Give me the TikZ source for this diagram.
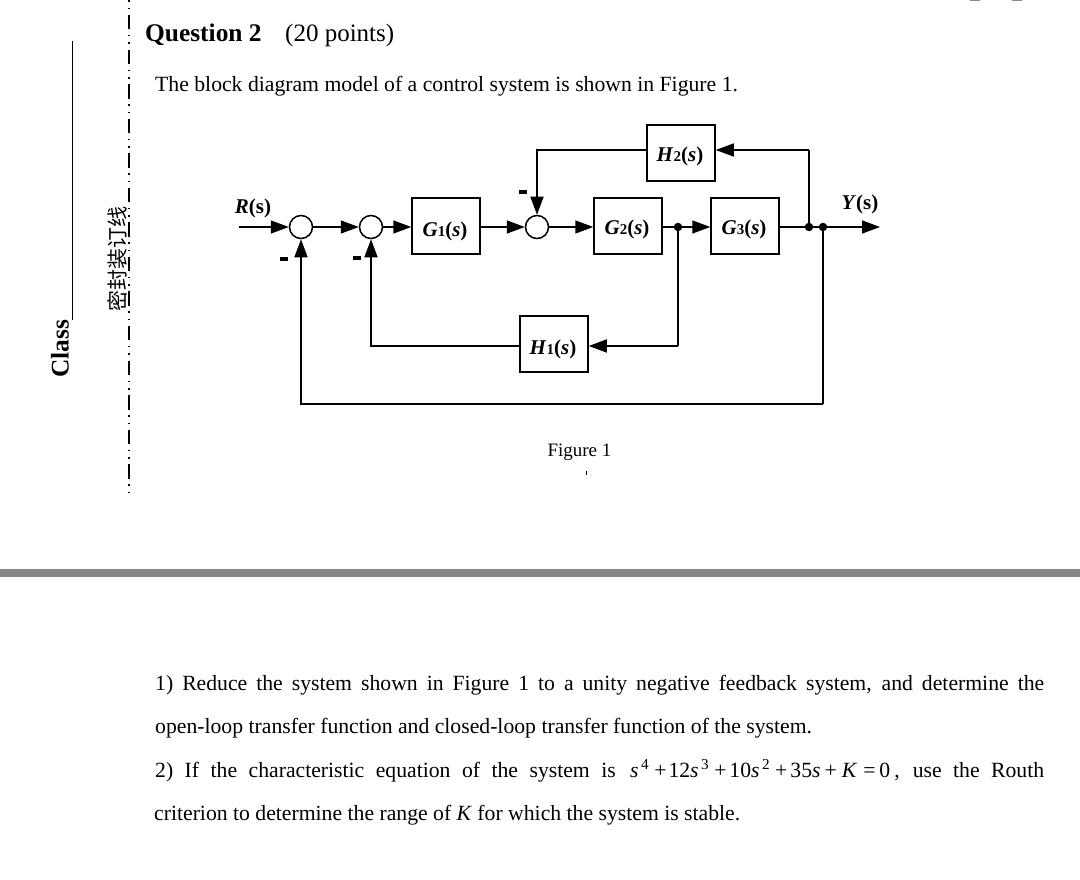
\documentclass[tikz,border=0pt]{standalone}
\usepackage{fontspec}
\usepackage{tikz}
\usetikzlibrary{arrows.meta}
\setmainfont{Liberation Serif}
\newfontfamily\cjk{Noto Sans CJK SC}
\newcommand{\sz}[1]{\fontsize{#1}{#1}\selectfont}
\newcommand{\blk}[2]{\textbf{\textit{#1}{\sz{15}#2}(\textit{s})}\kern2pt}
\newcommand{\wideline}[1]{\makebox[889pt][s]{#1}}
\newcommand{\pw}[1]{\kern2.5pt\textsuperscript{#1}\kern5pt}
\tikzset{
  block/.style = {draw, line width = 1.5pt, minimum width = 68pt, minimum height = 56pt, inner sep = 0pt, font = \sz{21}, text height = #1, text depth = 0pt},
  block/.default = 16pt,
  sumnode/.style = {draw, circle, line width = 1.5pt, minimum size = 23pt, inner sep = 0pt},
  dotnode/.style = {fill, circle, minimum size = 8.5pt, inner sep = 0pt},
  flow/.style = {line width = 1.5pt, -{Triangle[length = 18pt, width = 13pt]}},
  wire/.style = {line width = 1.5pt},
  txt/.style = {anchor = base west, inner sep = 0pt, font = \sz{21.7}},
  minus/.style = {fill, minimum width = 8pt, minimum height = 3.5pt, inner sep = 0pt}
}
\begin{document}
\begin{tikzpicture}[x = 1pt, y = -1pt]
\useasboundingbox (0, 0) rectangle (1080, 880);

\coordinate (cutTop) at (129, 0);
\coordinate (cutEnd) at (129, 492);
\draw[line width = 1.2pt, dash pattern = on 14.5pt off 5.5pt on 1.5pt off 6pt on 1.5pt off 5.55pt, dash phase = 19.55pt] (cutTop) -- (cutEnd);
\coordinate (classTop) at (72, 41);
\coordinate (classEnd) at (72, 320);
\draw[line width = 1pt] (classTop) -- (classEnd);
\node[rotate = 90, inner sep = 0pt, font = \sz{25.4}\bfseries] (classLabel) at (60, 349) {Class};
\node[rotate = 90, inner sep = 0pt, font = \sz{21}\cjk] (sealLabel) at (117, 259) {密封装订线};
\fill[black!47] (0, 569) rectangle (1080, 577);

\node[txt, font = \sz{25.4}\bfseries] (title) at (145, 42) {Question 2};
\node[txt, font = \sz{25}] (points) at (285, 42) {(20 points)};
\node[txt] (intro) at (155, 92) {The block diagram model of a control system is shown in Figure 1.};

\node[sumnode] (sum1) at (301, 227) {};
\node[sumnode] (sum2) at (371, 227) {};
\node[block = 21pt] (G1) at (446, 226) {\blk{G}{1}};
\node[sumnode] (sum3) at (537, 227) {};
\node[block = 17pt] (G2) at (628, 226) {\blk{G}{2}};
\node[dotnode] (tapG) at (678, 227) {};
\node[block] (G3) at (745, 226) {\blk{G}{3}};
\node[dotnode] (tapH) at (809, 227) {};
\node[dotnode] (tapY) at (823, 227) {};
\node[block = 17pt] (H2) at (681, 153) {\blk{H}{2}};
\node[block = 21pt] (H1) at (554, 344) {\blk{H}{1}};
\coordinate (inR) at (239, 227);
\coordinate (outY) at (880, 227);
\coordinate (topH) at (809, 150);
\coordinate (midH) at (678, 346);
\coordinate (low) at (823, 404);

\draw[flow] (inR) -- (sum1);
\draw[flow] (sum1) -- (sum2);
\draw[flow] (sum2) -- (sum2 -| G1.west);
\draw[flow] (sum3 -| G1.east) -- (sum3);
\draw[flow] (sum3) -- (sum3 -| G2.west);
\draw[wire] (sum3 -| G2.east) -- (tapG.center);
\draw[flow] (tapG.center) -- (tapG -| G3.west);
\draw[wire] (tapG -| G3.east) -- (tapH.center) -- (tapY.center);
\draw[flow] (tapY.center) -- (outY);
\draw[wire] (tapH.center) -- (topH);
\draw[flow] (topH) -- (topH -| H2.east);
\draw[flow] (topH -| H2.west) -| (sum3);
\draw[wire] (tapG.center) -- (midH);
\draw[flow] (midH) -- (midH -| H1.east);
\draw[flow] (midH -| H1.west) -| (sum2);
\draw[wire] (tapY.center) -- (low);
\draw[flow] (low) -| (sum1);

\node[font = \sz{21}\bfseries, inner sep = 0pt] (labelR) at (253, 208) {\textit{R}(s)};
\node[font = \sz{21}\bfseries, inner sep = 0pt] (labelY) at (860, 204) {\textit{Y}(s)};
\node[minus] (minus1) at (284, 259) {};
\node[minus] (minus2) at (357, 258) {};
\node[minus] (minus3) at (523, 192) {};
\node[font = \sz{19}, inner sep = 0pt] (figLabel) at (579.5, 452) {Figure 1};
\coordinate (speckTop) at (586, 471);
\coordinate (speckEnd) at (586, 475);
\draw[line width = 1pt] (speckTop) -- (speckEnd);
\coordinate (markA) at (975, 0);
\coordinate (markB) at (1017, 0);
\draw[black!45, line width = 2pt] (markA) ++(-5, 0) -- ++(10, 0);
\draw[black!45, line width = 2pt] (markB) ++(-5, 0) -- ++(10, 0);

\node[txt] (line1) at (155, 690) {\wideline{1) Reduce the system shown in Figure 1 to a unity negative feedback system, and determine the}};
\node[txt] (line2) at (155, 733) {open-loop transfer function and closed-loop transfer function of the system.};
\node[txt] (line3) at (155, 777) {\wideline{2) If the characteristic equation of the system is \kern3pt\textit{s}\pw{4}+\kern2pt12\textit{s}\pw{3}+\kern3pt10\textit{s}\pw{2}+\kern3pt35\textit{s}\kern4pt+\kern5pt\textit{K}\kern6pt=\kern4pt0\kern4pt, use the Routh}};
\node[txt] (line4) at (154, 820) {criterion to determine the range of \textit{K} for which the system is stable.};
\end{tikzpicture}
\end{document}
